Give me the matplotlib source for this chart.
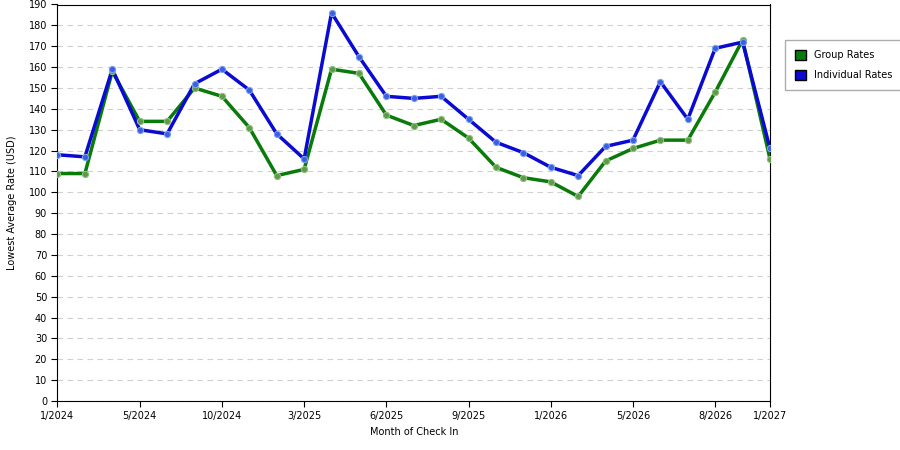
import matplotlib
matplotlib.use('Agg')
import matplotlib.pyplot as plt
import matplotlib.patches as mpatches

# month labels only appear at some points; others blank
tick_labels = ['1/2024', '', '', '5/2024', '', '', '10/2024', '', '', '3/2025', '', '', '6/2025', '', '',
               '9/2025', '', '', '1/2026', '', '', '5/2026', '', '', '8/2026', '', '1/2027']
group_rates = [109, 109, 158, 134, 134, 150, 146, 131, 108, 111, 159, 157, 137, 132, 135, 126, 112, 107,
               105, 98, 115, 121, 125, 125, 148, 173, 116]
indiv_rates = [118, 117, 159, 130, 128, 152, 159, 149, 128, 116, 186, 165, 146, 145, 146, 135, 124, 119,
               112, 108, 122, 125, 153, 135, 169, 172, 121]

green = '#0a7a0a'
blue = '#0a0ad2'

fig = plt.figure(figsize=(9, 4.5), dpi=100)
ax = fig.add_axes([57.5/900, 49/450, 712.5/900, 396.5/450])
x = list(range(len(tick_labels)))

ax.plot(x, group_rates, color=green, lw=2.5, zorder=3)
ax.scatter(x, group_rates, s=20, color='#5f9a4a', edgecolors='#8fbf7f', lw=0.8, zorder=4)
ax.plot(x, indiv_rates, color=blue, lw=2.5, zorder=3)
ax.scatter(x, indiv_rates, s=20, color='#3a5fe0', edgecolors='#7f9fef', lw=0.8, zorder=4)

ax.set_xlim(0, len(x) - 1)
ax.set_ylim(0, 190)
ax.set_yticks(range(0, 191, 10))
ax.set_xticks([i for i, t in enumerate(tick_labels) if t])
ax.set_xticklabels([t for t in tick_labels if t])
ax.tick_params(labelsize=7, length=4)
ax.grid(axis='y', ls=(0, (5, 4)), color='#d0d0d0', lw=0.8)
ax.set_axisbelow(True)
ax.set_xlabel('Month of Check In', fontsize=7)
ax.set_ylabel('Lowest Average Rate (USD)', fontsize=7, labelpad=8)

handles = [mpatches.Patch(facecolor=green, edgecolor='black', label='Group Rates'),
           mpatches.Patch(facecolor=blue, edgecolor='black', label='Individual Rates')]
fig.legend(handles=handles, loc='upper left', bbox_to_anchor=(780/900, 1 - 35/450),
           fontsize=7, frameon=True, fancybox=False, edgecolor='#999999',
           handlelength=1.2, handleheight=1.2, borderpad=1.0, labelspacing=1.0)

fig.savefig('out.png', dpi=100)
